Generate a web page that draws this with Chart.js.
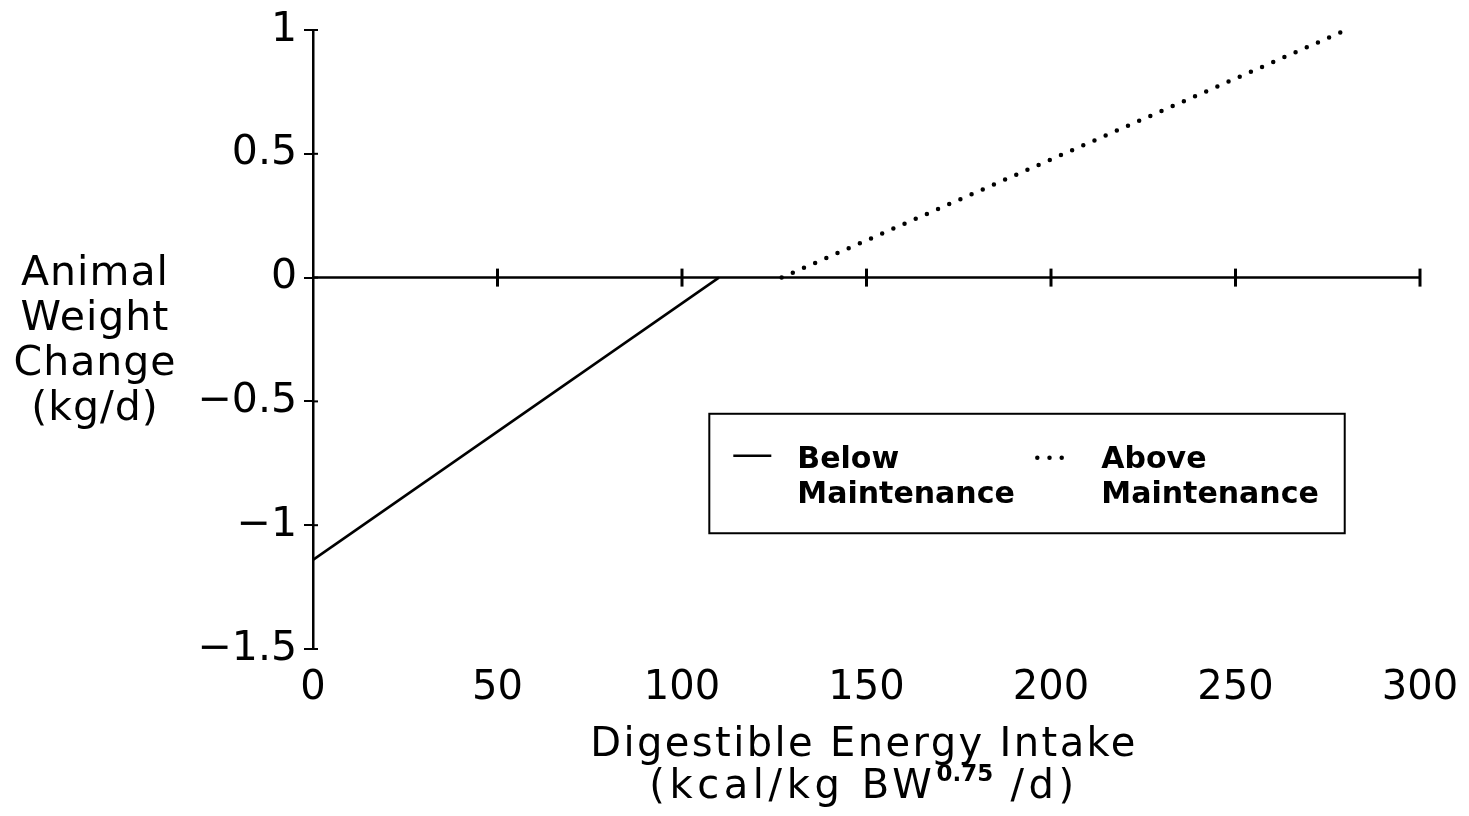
<!DOCTYPE html>
<html>
<head>
<meta charset="utf-8">
<script src="https://cdn.jsdelivr.net/npm/chart.js@4/dist/chart.umd.min.js"></script>
<style>
  html, body { margin: 0; padding: 0; background: #fff; }
  canvas { display: block; }
</style>
</head>
<body>
<canvas id="c" width="1469" height="816"></canvas>
<script>
// ---- data ----
const belowX = [0, 110];
const belowY = [-1.14, 0];
const aboveX = [127, 280];
const aboveY = [0, 1.0];
const seriesLabels = [["Below", "Maintenance"], ["Above", "Maintenance"]];
const xTickValues = [0, 50, 100, 150, 200, 250, 300];
const yTickValues = [-1.5, -1, -0.5, 0, 0.5, 1];
const yTitleLines = ["Animal", "Weight", "Change", "(kg/d)"];
const xTitleLine1 = "Digestible Energy Intake";
const xTitleLine2 = ["(kcal/kg BW", "0.75", " /d)"];

const FONT = "'DejaVu Sans', sans-serif";

function toPoints(xs, ys) { return xs.map((x, i) => ({ x: x, y: ys[i] })); }

const zeroAxisPlugin = {
  id: 'zeroAxis',
  beforeDatasetsDraw(chart) {
    const { ctx, scales: { x, y } } = chart;
    const y0 = y.getPixelForValue(0);
    ctx.save();
    ctx.strokeStyle = '#000';
    ctx.lineWidth = 2.5;
    ctx.beginPath();
    ctx.moveTo(x.getPixelForValue(xTickValues[0]), y0);
    ctx.lineTo(x.getPixelForValue(xTickValues[xTickValues.length - 1]), y0);
    ctx.stroke();
    ctx.lineWidth = 3;
    xTickValues.slice(1).forEach(v => {
      const px = x.getPixelForValue(v);
      ctx.beginPath();
      ctx.moveTo(px, y0 - 9);
      ctx.lineTo(px, y0 + 9);
      ctx.stroke();
    });
    ctx.lineWidth = 2;
    yTickValues.forEach(v => {
      const py = y.getPixelForValue(v);
      const px = x.getPixelForValue(0);
      ctx.beginPath();
      ctx.moveTo(px, py);
      ctx.lineTo(px + 5, py);
      ctx.stroke();
    });
    ctx.restore();
  }
};

const titlesPlugin = {
  id: 'titles',
  afterDraw(chart) {
    const { ctx } = chart;
    ctx.save();
    ctx.fillStyle = '#000';
    ctx.font = '41px ' + FONT;
    ctx.textAlign = 'center';
    ctx.textBaseline = 'alphabetic';
    ctx.letterSpacing = '1px';
    const yBase = [285, 330, 375, 420];
    yTitleLines.forEach((t, i) => ctx.fillText(t, 95, yBase[i]));
    ctx.font = '40px ' + FONT;
    ctx.letterSpacing = '2.4px';
    const cx = 864;
    ctx.fillText(xTitleLine1, cx, 756);
    const big = '40px ' + FONT, small = 'bold 23px ' + FONT;
    const bigLS = '4.6px', smallLS = '0px';
    ctx.font = big; ctx.letterSpacing = bigLS;
    const w1 = ctx.measureText(xTitleLine2[0]).width;
    const w3 = ctx.measureText(xTitleLine2[2]).width;
    ctx.font = small; ctx.letterSpacing = smallLS;
    const w2 = ctx.measureText(xTitleLine2[1]).width;
    const total = w1 + w2 + w3;
    let sx = cx - total / 2;
    ctx.textAlign = 'left';
    ctx.font = big; ctx.letterSpacing = bigLS;
    ctx.fillText(xTitleLine2[0], sx, 798);
    sx += w1;
    ctx.font = small; ctx.letterSpacing = smallLS;
    ctx.fillText(xTitleLine2[1], sx, 781);
    sx += w2;
    ctx.font = big; ctx.letterSpacing = bigLS;
    ctx.fillText(xTitleLine2[2], sx, 798);
    ctx.restore();
  }
};

const boxLegendPlugin = {
  id: 'boxLegend',
  afterDraw(chart) {
    const { ctx, chartArea: a } = chart;
    const W = a.right - a.left, H = a.bottom - a.top;
    const bx = a.left + 0.358 * W, by = a.top + 0.620 * H;
    const bw = 0.574 * W, bh = 0.193 * H;
    ctx.save();
    ctx.strokeStyle = '#000';
    ctx.lineWidth = 2;
    ctx.strokeRect(bx, by, bw, bh);
    const ds = chart.data.datasets;
    const items = [
      { sx: bx + 24, tx: bx + 88 },
      { sx: bx + 326, tx: bx + 392 }
    ];
    ctx.font = 'bold 30px ' + FONT;
    ctx.fillStyle = '#000';
    ctx.textAlign = 'left';
    ctx.textBaseline = 'alphabetic';
    items.forEach((it, i) => {
      const d = ds[i];
      ctx.save();
      ctx.strokeStyle = d.borderColor;
      ctx.lineWidth = d.borderWidth;
      ctx.lineCap = d.borderCapStyle || 'butt';
      ctx.setLineDash(d.borderDash || []);
      ctx.beginPath();
      const ly = by + 42;
      if (i === 0) { ctx.moveTo(it.sx, ly); ctx.lineTo(it.sx + 38, ly); }
      else { ctx.moveTo(it.sx + 2, ly + 2); ctx.lineTo(it.sx + 28, ly + 2); }
      ctx.stroke();
      ctx.restore();
      ctx.fillText(seriesLabels[i][0], it.tx, by + 54);
      ctx.fillText(seriesLabels[i][1], it.tx, by + 89);
    });
    ctx.restore();
  }
};

new Chart(document.getElementById('c'), {
  type: 'line',
  data: {
    datasets: [
      {
        label: seriesLabels[0].join(' '),
        data: toPoints(belowX, belowY),
        borderColor: '#000',
        borderWidth: 2.5,
        pointRadius: 0,
        fill: false,
        tension: 0
      },
      {
        label: seriesLabels[1].join(' '),
        data: toPoints(aboveX, aboveY),
        borderColor: '#000',
        borderWidth: 4.5,
        borderDash: [0, 12.2],
        borderCapStyle: 'round',
        pointRadius: 0,
        fill: false,
        tension: 0
      }
    ]
  },
  options: {
    responsive: false,
    animation: false,
    layout: { padding: { top: 30, right: 49, left: 0, bottom: 0 } },
    plugins: { legend: { display: false }, tooltip: { enabled: false } },
    scales: {
      x: {
        type: 'linear',
        min: 0, max: 300,
        afterBuildTicks(scale) { scale.ticks = xTickValues.map(v => ({ value: v })); },
        afterFit(scale) { scale.height = 816 - 649; scale.paddingLeft = 0; scale.paddingRight = 0; },
        border: { display: false },
        grid: { display: false, drawTicks: false },
        ticks: {
          color: '#000',
          font: { family: FONT, size: 40 },
          padding: 16,
          maxRotation: 0,
          callback: v => String(v)
        }
      },
      y: {
        type: 'linear',
        min: -1.5, max: 1,
        afterBuildTicks(scale) { scale.ticks = yTickValues.map(v => ({ value: v })); },
        afterFit(scale) { scale.width = 313; scale.paddingTop = 0; scale.paddingBottom = 0; },
        border: { display: true, color: '#000', width: 2.5 },
        grid: { display: true, drawOnChartArea: false, drawTicks: true, tickLength: 9, color: '#000', lineWidth: 2 },
        ticks: {
          color: '#000',
          font: { family: FONT, size: 41 },
          padding: 7,
          callback: v => String(v).replace('-', '\u2212')
        }
      }
    }
  },
  plugins: [zeroAxisPlugin, titlesPlugin, boxLegendPlugin]
});
</script>
</body>
</html>
